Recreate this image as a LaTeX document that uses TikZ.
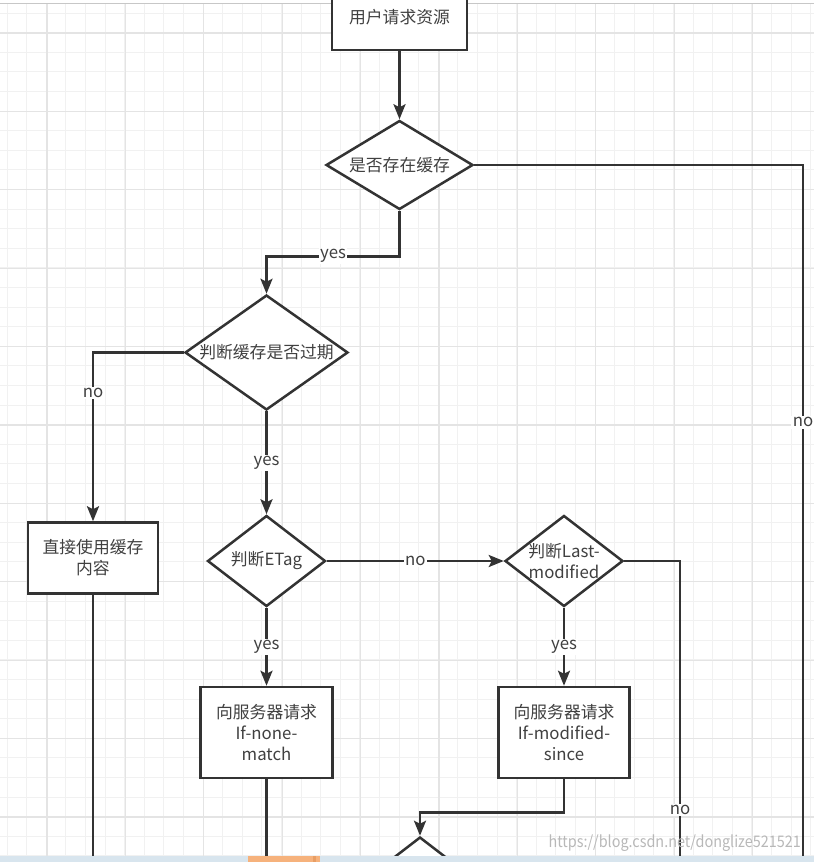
\documentclass[tikz,border=0pt]{standalone}
\usepackage{fontspec}
\setmainfont{Noto Sans CJK SC}
\usepackage{graphicx}
\usepackage{tikz}
\usetikzlibrary{shapes.geometric, arrows.meta, positioning}
\definecolor{cLine}{RGB}{51,51,51}
\definecolor{cText}{RGB}{64,64,64}
\definecolor{cGridMinor}{RGB}{241,241,241}
\definecolor{cGridMajor}{RGB}{228,228,228}
\definecolor{cStrip}{RGB}{216,229,238}
\definecolor{cOrange}{RGB}{246,178,124}
\definecolor{cOrangeDark}{RGB}{232,158,100}
\newcommand\chartfont{\fontsize{16.8}{21}\selectfont}
\tikzset{
	process/.style  ={rectangle, draw=cLine, line width=2.5pt, fill=white, align=center, text=cText, font=\chartfont, inner sep=2pt},
	decision/.style ={diamond, draw=cLine, line width=2.5pt, fill=white, inner sep=0pt},
	dtext/.style    ={align=center, text=cText, font=\chartfont, inner sep=0pt},
	flowarrow/.style={-{Stealth[length=15pt, width=12pt, inset=3pt]}, line width=2.5pt, draw=cLine},
	flowline/.style ={line width=2.5pt, draw=cLine},
	lab/.style      ={fill=white, inner sep=1.5pt, text=cText, font=\chartfont},
	gridminor/.style={draw=cGridMinor, line width=1pt},
	gridmajor/.style={draw=cGridMajor, line width=1.2pt},
}
\begin{document}
\begin{tikzpicture}[x=1pt, y=-1pt]
	\useasboundingbox (0,0) rectangle (814,862);
	\clip (0,0) rectangle (814,862);
	% background grid
	\foreach \i in {0,...,41} \draw[gridminor] ({7+19.6*\i},3) -- ++(0,859);
	\foreach \j in {0,...,43} \draw[gridminor] (0,{13+19.6*\j}) -- ++(814,0);
	\foreach \i in {0,...,9} \draw[gridmajor] ({47+78.4*\i},3) -- ++(0,859);
	\foreach \j in {0,...,10} \draw[gridmajor] (0,{33+78.4*\j}) -- ++(814,0);
	\draw[draw=black!22, line width=1pt] (0,3) -- (814,3);

	% nodes
	\node[process, minimum width=135pt, minimum height=66pt] (request) at (399.5,17) {用户请求资源};
	\node[decision, minimum width=147pt, minimum height=89pt, below=68pt of request,
		label={[dtext]center:是否存在缓存}] (exists) {};
	\node[decision, minimum width=163pt, minimum height=115pt,
		label={[dtext]center:判断缓存是否过期}] (expired) at (266.5,352.5) {};
	\node[process, minimum width=130pt, minimum height=71pt] (usecache) at (93,558) {直接使用缓存\\内容};
	\node[decision, minimum width=118pt, minimum height=91pt, below=103pt of expired,
		label={[dtext]center:判断ETag}] (etag) {};
	\node[decision, minimum width=118pt, minimum height=91pt, right=177pt of etag,
		label={[dtext]center:{判断Last-\\modified}}] (lmod) {};
	\node[process, minimum width=132pt, minimum height=91pt, below=78pt of etag] (inm) {向服务器请求\\If-none-\\match};
	\node[process, minimum width=131pt, minimum height=91pt, below=78pt of lmod] (ims) {向服务器请求\\If-modified-\\since};
	\node[decision, minimum width=118pt, minimum height=91pt] (next) at (420,882.5) {};

	% free ends below the frame
	\coordinate (farEnd) at (803,880);
	\coordinate (cacheEnd) at (93,880);
	\coordinate (inmEnd) at (266.5,880);
	\coordinate (lmodEnd) at (680,880);

	% connectors
	\draw[flowarrow] (request) -- (exists);
	\draw[flowline] (exists.east) -| node[lab, pos=0.68]{no} (farEnd);
	\draw[flowarrow] (exists.south) -- ++(0,45.5) -| node[lab, pos=0.25]{yes} (expired.north);
	\draw[flowarrow] (expired.west) -| node[lab, pos=0.62]{no} (usecache.north);
	\draw[flowline] (usecache.south) -- (cacheEnd);
	\draw[flowarrow] (expired.south) -- node[lab]{yes} (etag.north);
	\draw[flowarrow] (etag.east) -- node[lab]{no} (lmod.west);
	\draw[flowline] (lmod.east) -| node[lab, pos=0.89]{no} (lmodEnd);
	\draw[flowarrow] (etag.south) -- node[lab]{yes} (inm.north);
	\draw[flowarrow] (lmod.south) -- node[lab]{yes} (ims.north);
	\draw[flowline] (inm.south) -- (inmEnd);
	\draw[flowarrow] (ims.south) -- ++(0,33) -| (next.north);

	% watermark and screen strip
	\node[anchor=east, text=black!28, inner sep=0pt, font=\fontsize{16}{16}\selectfont] (mark) at (801,843)
		{\scalebox{0.9}[1]{https://blog.csdn.net/donglize521521}};
	\fill[cStrip] (0,856) rectangle (814,862);
	\fill[cOrange] (248,856) rectangle (320,862);
	\fill[cOrangeDark] (313,856) rectangle (316,862);
\end{tikzpicture}
\end{document}
